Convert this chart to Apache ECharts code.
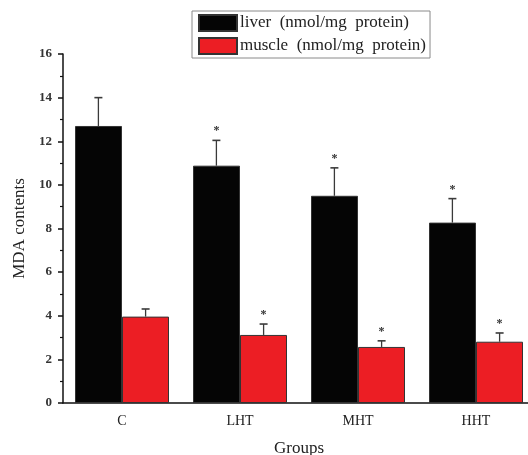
<!DOCTYPE html>
<html>
<head>
<meta charset="utf-8">
<script src="https://cdn.jsdelivr.net/npm/echarts@6/dist/echarts.min.js"></script>
<style>html,body{margin:0;padding:0;background:#fff}#c{width:528px;height:455px}</style>
</head>
<body>
<div id="c"></div>
<script>
const categories = ['C', 'LHT', 'MHT', 'HHT'];
const liver = [12.7, 10.88, 9.5, 8.27];
const liverErr = [1.3, 1.16, 1.28, 1.1];
const liverSig = ['', '*', '*', '*'];
const muscle = [3.96, 3.12, 2.57, 2.81];
const muscleErr = [0.35, 0.5, 0.28, 0.4];
const muscleSig = ['', '*', '*', '*'];
const yTicks = [0, 2, 4, 6, 8, 10, 12, 14, 16];

const FONT = '"Liberation Serif", "DejaVu Serif", serif';
const chart = echarts.init(document.getElementById('c'));

function errData(vals, errs, sig) {
  return vals.map((v, i) => [i, v, v + errs[i], sig[i]]);
}
function errRender(offsetFrac) {
  return function (params, api) {
    const i = api.value(0);
    const base = api.coord([i, api.value(1)]);
    const top = api.coord([i, api.value(2)]);
    const bw = api.size([1, 0])[0];
    const x = base[0] + offsetFrac * bw;
    const style = { stroke: '#3a3a3a', lineWidth: 1.3 };
    const children = [
      { type: 'line', shape: { x1: x, y1: base[1], x2: x, y2: top[1] }, style: style },
      { type: 'line', shape: { x1: x - 4, y1: top[1], x2: x + 4, y2: top[1] }, style: { stroke: '#3a3a3a', lineWidth: 1.6 } }
    ];
    const s = api.value(3);
    if (s) {
      children.push({ type: 'text', style: { text: s, x: x, y: top[1] - 9, align: 'center', verticalAlign: 'middle', fill: '#333', font: 'bold 12px ' + FONT } });
    }
    return { type: 'group', children: children };
  };
}

chart.setOption({
  animation: false,
  backgroundColor: '#fff',
  grid: { left: 63, right: -7, top: 54, bottom: 52, outerBoundsMode: 'none', containLabel: false },
  legend: {
    orient: 'vertical',
    left: 192, top: 11,
    padding: [3, 4, 3, 6],
    itemGap: 5,
    itemWidth: 38, itemHeight: 16,
    icon: 'rect',
    borderColor: '#8a8a8a', borderWidth: 1,
    textStyle: { fontFamily: FONT, fontSize: 17, color: '#222', padding: [0, 0, 0, -2] },
    data: ['liver  (nmol/mg  protein)', 'muscle  (nmol/mg  protein)']
  },
  xAxis: [{
    type: 'category', data: categories, boundaryGap: true,
    axisLine: { lineStyle: { color: '#111', width: 1.5 } },
    axisTick: { alignWithLabel: true, length: 5, lineStyle: { color: '#111', width: 1.5 } },
    axisLabel: { fontFamily: FONT, fontSize: 14, color: '#222', margin: 11 },
    name: 'Groups', nameLocation: 'middle', nameGap: 37,
    nameTextStyle: { fontFamily: FONT, fontSize: 17, color: '#222' }
  }, {
    type: 'category', data: categories, boundaryGap: true, position: 'bottom',
    axisLine: { show: false },
    axisTick: { length: 3, lineStyle: { color: '#111', width: 1.2 } },
    axisLabel: { show: false }
  }],
  yAxis: {
    type: 'value', min: 0, max: 16, interval: 2,
    axisLine: { show: true, lineStyle: { color: '#111', width: 1.5 } },
    axisTick: { show: true, length: 5, lineStyle: { color: '#111', width: 1.5 } },
    minorTick: { show: true, splitNumber: 2, length: 3, lineStyle: { color: '#111', width: 1.2 } },
    splitLine: { show: false },
    axisLabel: { fontFamily: FONT, fontSize: 13, fontWeight: 'bold', color: '#333', margin: 11,
      formatter: v => yTicks.includes(v) ? String(v) : '' },
    name: 'MDA contents', nameLocation: 'middle', nameGap: 33,
    nameTextStyle: { fontFamily: FONT, fontSize: 17, color: '#222' }
  },
  series: [
    { name: 'liver  (nmol/mg  protein)', type: 'bar', data: liver, barWidth: 47, barGap: '0%',
      itemStyle: { color: '#050505', borderColor: '#333', borderWidth: 1 }, z: 2 },
    { name: 'muscle  (nmol/mg  protein)', type: 'bar', data: muscle, barWidth: 47, barGap: '0%',
      itemStyle: { color: '#ec1e24', borderColor: '#333', borderWidth: 1 }, z: 2 },
    { type: 'custom', renderItem: errRender(-0.2), data: errData(liver, liverErr, liverSig),
      encode: { x: 0, y: 2 }, z: 3, silent: true },
    { type: 'custom', renderItem: errRender(0.2), data: errData(muscle, muscleErr, muscleSig),
      encode: { x: 0, y: 2 }, z: 3, silent: true }
  ]
});
</script>
</body>
</html>
